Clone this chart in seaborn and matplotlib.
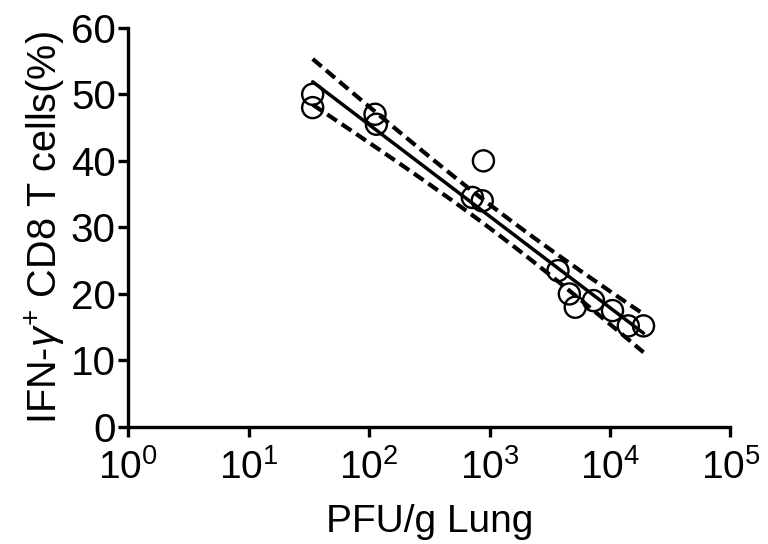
import numpy as np
import matplotlib
matplotlib.use("Agg")
import matplotlib.pyplot as plt
import seaborn as sns
from matplotlib.ticker import LogFormatterSciNotation, NullLocator


# values
pfu = [34, 34, 112, 115, 890, 720, 870, 3700, 4600, 5150, 7300, 10500, 14200, 19000]
ifng = [50, 48, 47, 45.5, 40, 34.5, 34, 23.5, 20, 18, 19, 17.5, 15.2, 15.2]
x_ticks = [1, 10, 100, 1000, 10000, 100000]
y_ticks = [0, 10, 20, 30, 40, 50, 60]

T_95 = 2.179  # t quantile, df = n - 2 = 12


def fit_line(x, y):
    lx = np.log10(x)
    y = np.asarray(y, dtype=float)
    n = len(lx)
    slope, icpt = np.polyfit(lx, y, 1)
    resid = y - (slope * lx + icpt)
    s = np.sqrt(np.sum(resid ** 2) / (n - 2))
    sxx = np.sum((lx - lx.mean()) ** 2)
    grid = np.linspace(lx.min(), lx.max(), 100)
    pred = slope * grid + icpt
    half = T_95 * s * np.sqrt(1 / n + (grid - lx.mean()) ** 2 / sxx)
    return 10 ** grid, pred, pred - half, pred + half


def main():
    sns.set_style("ticks")
    plt.rcParams["font.family"] = ["Liberation Sans", "DejaVu Sans"]
    plt.rcParams["mathtext.fontset"] = "custom"
    plt.rcParams["mathtext.rm"] = "Liberation Sans"
    plt.rcParams["mathtext.it"] = "Liberation Sans:italic"
    plt.rcParams["mathtext.bf"] = "Liberation Sans:bold"
    plt.rcParams["text.color"] = "black"
    plt.rcParams["axes.labelcolor"] = "black"

    fig = plt.figure(figsize=(7.68, 5.44), dpi=100)
    ax = fig.add_axes([0.167, 0.215, 0.784, 0.734])

    gx, pred, lo, hi = fit_line(pfu, ifng)
    sns.lineplot(x=gx, y=pred, color="black", lw=2.5, estimator=None, ax=ax)
    for band in (lo, hi):
        sns.lineplot(x=gx, y=band, color="black", lw=3.0, estimator=None,
                     ax=ax, linestyle=(0, (2.8, 1.4)))

    sns.scatterplot(x=pfu, y=ifng, color="black", facecolor="none",
                    edgecolor="black", s=230, linewidth=1.7, zorder=3, ax=ax)

    ax.set_xscale("log")
    ax.set_xlim(1, 1e5)
    ax.set_ylim(0, 60)
    ax.set_xticks(x_ticks)
    ax.xaxis.set_minor_locator(NullLocator())
    ax.xaxis.set_major_formatter(LogFormatterSciNotation())
    ax.set_yticks(y_ticks)

    for side in ("top", "right"):
        ax.spines[side].set_visible(False)
    for side in ("left", "bottom"):
        ax.spines[side].set_linewidth(2.4)
        ax.spines[side].set_color("black")
    ax.tick_params(direction="out", length=7, width=2.4, colors="black")
    ax.tick_params(axis="x", pad=9, labelsize=28)
    ax.tick_params(axis="y", pad=2, labelsize=29)

    ax.set_xlabel("PFU/g Lung", fontsize=28, labelpad=12)
    ax.set_ylabel(r"IFN-$\gamma^{+}$ CD8 T cells(%)", fontsize=28.5, labelpad=3)

    fig.savefig("out.png", dpi=100)


if __name__ == "__main__":
    main()
